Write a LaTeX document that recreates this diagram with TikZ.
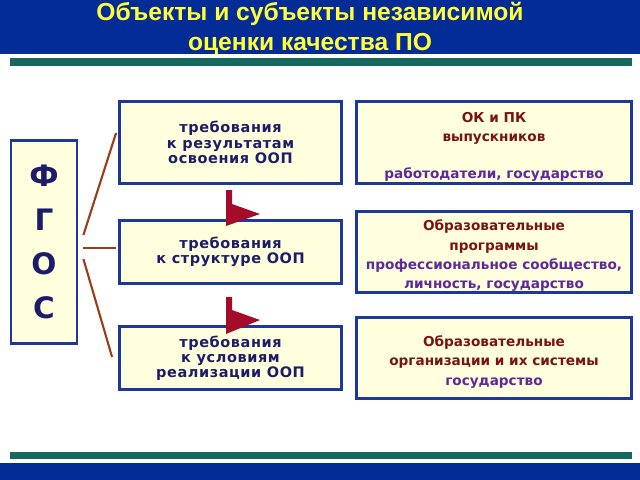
\documentclass[tikz,border=0pt]{standalone}
\usepackage{fontspec}
\setmainfont{DejaVu Sans}
\newfontfamily\titlefont{Liberation Sans}
\newfontfamily\reqfont{DejaVu Sans}[LetterSpace=4]
\usepackage{xcolor}
\usepackage{tikz}
\definecolor{band}{RGB}{4,44,150}
\definecolor{bargreen}{RGB}{22,104,94}
\definecolor{boxfill}{RGB}{255,255,222}
\definecolor{boxline}{RGB}{28,56,156}
\definecolor{navytext}{RGB}{28,28,105}
\definecolor{redtext}{RGB}{120,20,20}
\definecolor{violettext}{RGB}{95,40,155}
\definecolor{flagred}{RGB}{165,12,42}
\definecolor{linkbrown}{RGB}{155,60,20}
\definecolor{titleyellow}{RGB}{255,255,60}
\newcommand{\subjtext}[1]{\raisebox{-2.8pt}[\height][\depth]{\setlength{\tabcolsep}{0pt}\begin{tabular}{c}#1\end{tabular}}}
\tikzset{box/.style={draw=boxline,fill=boxfill,line width=2pt,inner sep=0pt,align=center},
  req/.style={box,text=navytext,minimum width=5.55cm,font=\reqfont\bfseries\fontsize{10.3}{10.8}\selectfont},
  subj/.style={draw=boxline,fill=boxfill,line width=2pt,inner sep=0pt,text=redtext,minimum width=6.875cm,font=\bfseries\fontsize{9.7}{13.8}\selectfont},
  link/.style={draw=linkbrown,line width=1.5pt},
  flag/.style={fill=flagred}}

\begin{document}
\begin{tikzpicture}[x=0.025cm,y=-0.025cm]
    \useasboundingbox (0,0) rectangle (640,480);
    \fill[white] (0,0) rectangle (640,480);
    \fill[band] (0,0) rectangle (640,54);
    \fill[bargreen] (10,58) rectangle (632,66);
    \fill[bargreen] (10,452) rectangle (632,459);
    \fill[band] (0,463) rectangle (640,480);

    \node[text=titleyellow,align=center,font=\titlefont\bfseries\fontsize{17.5}{21.3}\selectfont] (title) at (310,29) {Объекты и субъекты независимой\\оценки качества ПО};

    \node[box,text=navytext,minimum width=1.65cm,minimum height=5.075cm,font=\bfseries\fontsize{21}{31.2}\selectfont] (fgos) at (44,242) {Ф\\Г\\О\\С};

    \node[req,minimum height=2.05cm] (req1) at (230.5,142.5) {требования\\к результатам\\освоения ООП};
    \node[req,minimum height=1.575cm] (req2) at (230.5,252) {требования\\к структуре ООП};
    \node[req,minimum height=1.575cm] (req3) at (230.5,358) {требования\\к условиям\\реализации ООП};

    \node[subj,minimum height=2.05cm] (subj1) at (494,142.5) {\subjtext{ОК и ПК\\выпускников\\[12.4pt]\textcolor{violettext}{работодатели, государство}}};
    \node[subj,minimum height=2.025cm] (subj2) at (494,252) {\subjtext{Образовательные\\программы\\\textcolor{violettext}{профессиональное сообщество,}\\\textcolor{violettext}{личность, государство}}};
    \node[subj,minimum height=2.04cm] (subj3) at (494,358) {\subjtext{Образовательные\\организации и их системы\\\textcolor{violettext}{государство}}};

    \draw[link] ([shift={(5,-7)}]fgos.east) -- ([shift={(-2,-9.5)}]req1.west);
    \draw[link] ([shift={(5,6)}]fgos.east) -- ([shift={(-2,-4)}]req2.west);
    \draw[link] ([shift={(5,17)}]fgos.east) -- ([shift={(-6,-1)}]req3.west);

    \fill[flag] (226,190) -- (232,190) -- (232,204) -- (260,214) -- (226,226) -- cycle;
    \fill[flag] (226,297) -- (232,297) -- (232,310) -- (260,320) -- (226,334) -- cycle;
\end{tikzpicture}
\end{document}
